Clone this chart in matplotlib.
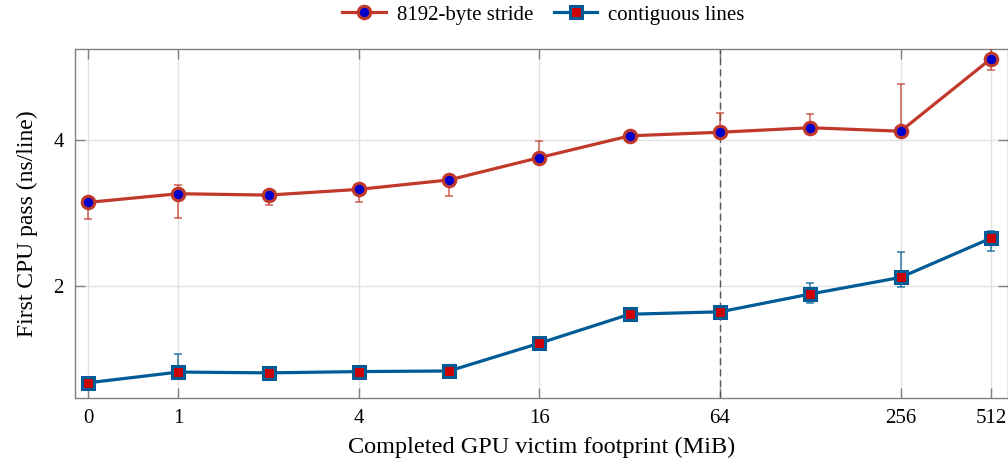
import matplotlib
matplotlib.use("Agg")
import matplotlib.pyplot as plt
from matplotlib.ticker import FixedLocator, FixedFormatter, NullLocator

# footprint sizes (MiB)
sizes = [0, 1, 2, 4, 8, 16, 32, 64, 128, 256, 512]
tick_sizes = [0, 1, 4, 16, 64, 256, 512]
tick_labels = ["0", "1", "4", "16", "64", "256", "512"]

# 8192-byte stride (ns/line), with lower/upper bounds
stride = [2.975, 3.10, 3.08, 3.165, 3.31, 3.68, 4.08, 4.15, 4.24, 4.17, 5.88]
stride_lo = [2.75, 2.76, 2.94, 2.975, 3.06, 3.62, 4.03, 4.10, 4.20, 4.12, 5.57]
stride_hi = [3.02, 3.235, 3.12, 3.20, 3.35, 3.99, 4.12, 4.55, 4.52, 5.22, 6.3]

# contiguous lines (ns/line)
contig = [1.264, 1.33, 1.325, 1.333, 1.337, 1.525, 1.75, 1.77, 1.926, 2.084, 2.51]
contig_lo = [1.25, 1.31, 1.31, 1.32, 1.32, 1.51, 1.73, 1.75, 1.85, 1.99, 2.36]
contig_hi = [1.28, 1.448, 1.34, 1.35, 1.35, 1.54, 1.77, 1.80, 2.03, 2.354, 2.60]

marker_line = 64

plt.rcParams["font.family"] = ["Liberation Serif", "DejaVu Serif"]
plt.rcParams["font.size"] = 15

fig = plt.figure(figsize=(10.08, 4.66), dpi=100)
ax = fig.add_axes([75 / 1008, 68 / 466, 933 / 1008, 349 / 466])

red = "#c0392b"
blue = "#005b96"


def draw(vals, lo, hi, col, face, mk, label):
    yerr = [[v - l for v, l in zip(vals, lo)], [h - v for v, h in zip(vals, hi)]]
    ax.errorbar(sizes, vals, yerr=yerr, fmt="none", ecolor=col, elinewidth=1.1,
                capsize=3, capthick=1.1, alpha=0.8, zorder=3)
    ax.plot(sizes, vals, color=col, lw=2.3, marker=mk, ms=9, mfc=face,
            mec=col, mew=2.2, label=label, zorder=4)


draw(stride, stride_lo, stride_hi, red, "#0000cc", "o", "8192-byte stride")
draw(contig, contig_lo, contig_hi, blue, "#cc0000", "s", "contiguous lines")

ax.axvline(marker_line, color="#555555", lw=1.0, ls=(0, (5, 3)), zorder=2)

ax.set_xscale("symlog", base=2, linthresh=1, linscale=0.5)
ax.set_yscale("log", base=2)
ax.set_xlim(-0.145, 584)
ax.set_ylim(1.176, 6.16)

ax.xaxis.set_major_locator(FixedLocator(tick_sizes))
ax.xaxis.set_major_formatter(FixedFormatter(tick_labels))
ax.xaxis.set_minor_locator(NullLocator())
ax.yaxis.set_major_locator(FixedLocator([2, 4]))
ax.yaxis.set_major_formatter(FixedFormatter(["2", "4"]))
ax.yaxis.set_minor_locator(NullLocator())

ax.grid(True, color="#e3e3e3", lw=1.0, zorder=0)
ax.set_axisbelow(True)
ax.tick_params(direction="in", length=7, width=1, color="#808080",
               top=True, right=True, pad=8)
for s in ax.spines.values():
    s.set_color("#808080")
    s.set_linewidth(1.0)

ax.set_xlabel("Completed GPU victim footprint (MiB)", fontsize=17.5, labelpad=6)
ax.set_ylabel("First CPU pass (ns/line)", fontsize=17, labelpad=11)

fig.legend(loc="center", bbox_to_anchor=(0.539, 0.968), ncol=2, frameon=False,
           handlelength=2.1, columnspacing=1.0, handletextpad=0.5)

fig.savefig("out.png", dpi=100)
